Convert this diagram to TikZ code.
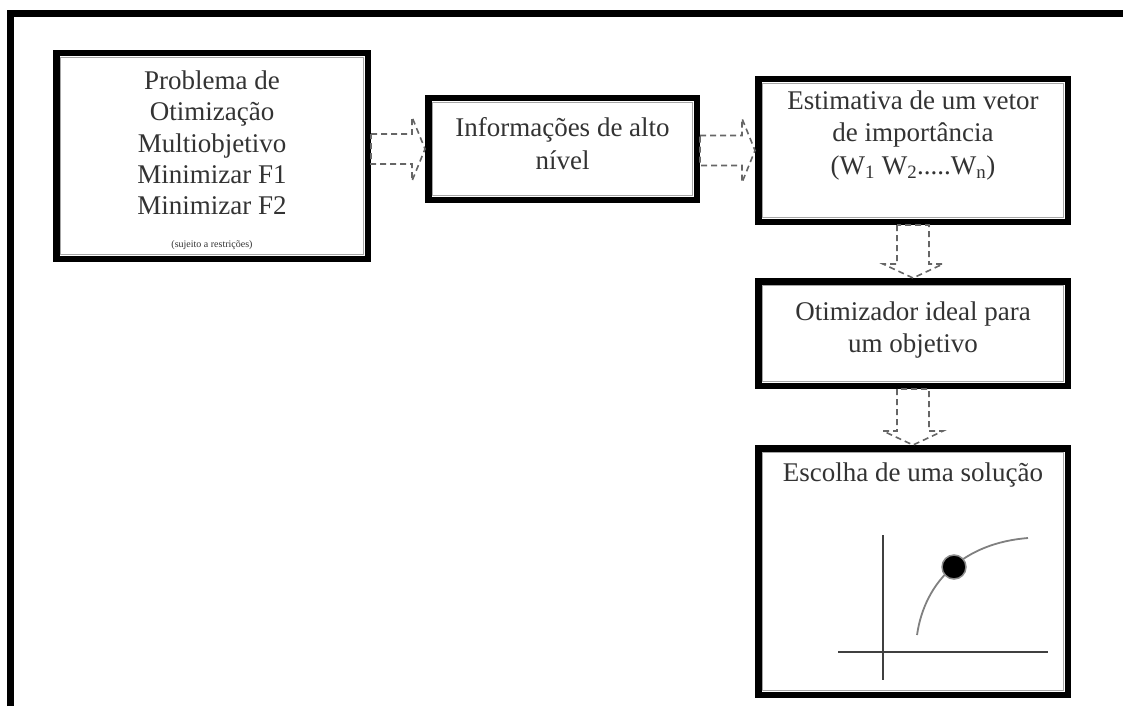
\documentclass[tikz,border=0pt]{standalone}
\usepackage{fontspec}
\setmainfont{Liberation Serif}
\usetikzlibrary{calc}
\newcommand\harrowto[2]{%
  \draw[blockarrow] let \p1=(#1.east), \p2=(#2.west) in
    ({\x1},{\y2+15pt}) -- ({\x2-13pt},{\y2+15pt}) -- ({\x2-13pt},{\y2+32pt})
    -- ({\x2},{\y2}) -- ({\x2-13pt},{\y2-32pt}) -- ({\x2-13pt},{\y2-15pt})
    -- ({\x1},{\y2-15pt}) -- cycle;}
\newcommand\varrowto[2]{%
  \draw[blockarrow] let \p1=(#1.south), \p2=(#2.north) in
    ({\x2-16pt},{\y1}) -- ({\x2-16pt},{\y2+14pt}) -- ({\x2-30pt},{\y2+14pt})
    -- ({\x2},{\y2}) -- ({\x2+30pt},{\y2+14pt}) -- ({\x2+16pt},{\y2+14pt})
    -- ({\x2+16pt},{\y1}) -- cycle;}
\begin{document}
\begin{tikzpicture}[x=1pt,y=-1pt,
  box/.style={draw=black, line width=6.5pt, rectangle, inner sep=0pt, fill=white},
  innerline/.style={draw=black!35, line width=1.1pt},
  lbl/.style={text=black!80, align=center, font=\fontsize{27}{32.5}\selectfont, inner sep=0pt},
  blockarrow/.style={draw=black!60, line width=1.6pt, dash pattern=on 6pt off 4pt, line join=miter},
  axisline/.style={draw=black!75, line width=2pt}]
\useasboundingbox (0,0) rectangle (1123,706);
\draw[line width=7pt, black, line join=miter] (10.5,706) -- (10.5,14) -- (1123,14);

\node[box, minimum width=311.5pt, minimum height=205.5pt] (b1) at (212,156) {};
\node[box, minimum width=268.5pt, minimum height=101.5pt] (b2) at (562.5,149) {};
\node[box, minimum width=309.5pt, minimum height=142.5pt] (b3) at (913,150.5) {};
\node[box, minimum width=309.5pt, minimum height=104.5pt] (b4) at (913,333.5) {};
\node[box, minimum width=309.5pt, minimum height=246.5pt] (b5) at (913,571.5) {};
\foreach \n in {b1,b2,b3,b4,b5}
  \draw[innerline] ([shift={(7.6,7.6)}]\n.north west) rectangle ([shift={(-7.6,-7.6)}]\n.south east);

\node[lbl, font=\fontsize{27}{31.3}\selectfont] (t1) at (212,143) {Problema de\\Otimização\\Multiobjetivo\\Minimizar F1\\Minimizar F2};
\node[lbl, font=\fontsize{10}{12}\selectfont] (t1s) at (212,245) {(sujeito a restrições)};
\node[lbl] (t2) at (562.5,143.5) {Informações de alto\\nível};
\node[lbl] (t3) at (913,135.5) {Estimativa de um vetor\\de importância\\(W\textsubscript{1} W\textsubscript{2}.....W\textsubscript{n})};
\node[lbl] (t4) at (913,330) {Otimizador ideal para\\um objetivo};
\node[lbl] (t5) at (913,475) {Escolha de uma solução};

\harrowto{b1}{b2}
\harrowto{b2}{b3}
\varrowto{b3}{b4}
\varrowto{b4}{b5}

\draw[axisline] (883,535) -- (883,680);
\draw[axisline] (838,652) -- (1048,652);
\draw[draw=black!50, line width=1.8pt] (917,635) .. controls (925,580) and (965,543) .. (1028,538);
\node[circle, fill=black, draw=black!45, line width=1.5pt, minimum size=24pt, inner sep=0pt] (sol) at (954,567) {};
\end{tikzpicture}
\end{document}
